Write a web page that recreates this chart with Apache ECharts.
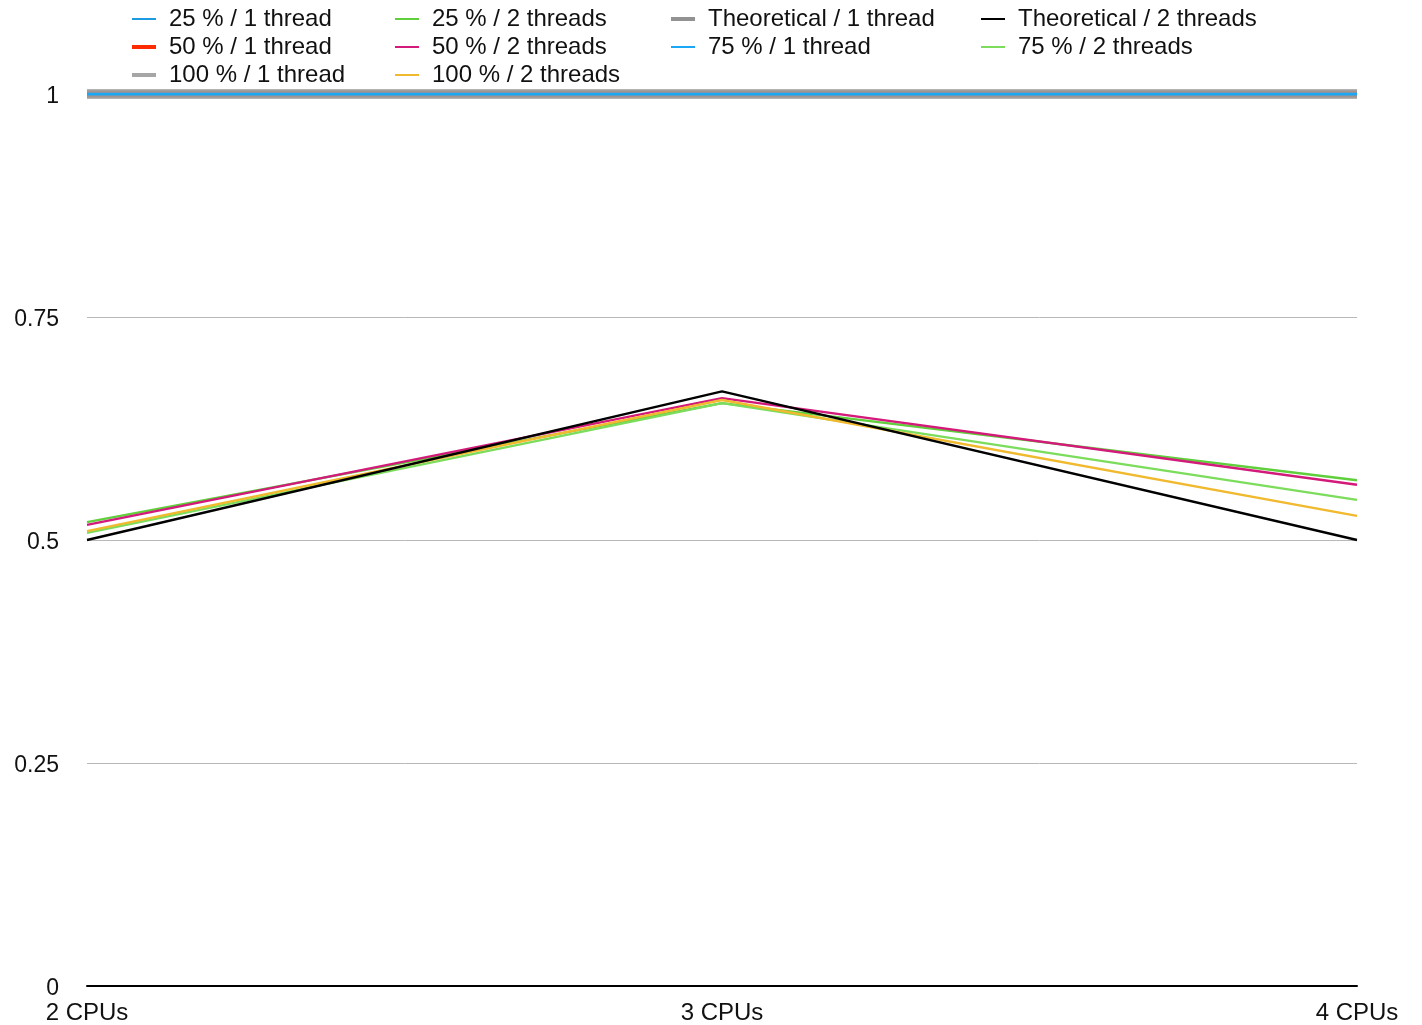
<!DOCTYPE html>
<html><head><meta charset="utf-8">
<script src="https://cdn.jsdelivr.net/npm/echarts@6/dist/echarts.min.js"></script>
<style>html,body{margin:0;padding:0;background:#fff}#c{width:1422px;height:1025px}</style>
</head><body><div id="c"></div>
<script>
const categories = ['2 CPUs', '3 CPUs', '4 CPUs'];
const yTicks = [0, 0.25, 0.5, 0.75, 1];

const theo1 = [1, 1, 1];
const p50t1 = [1, 1, 1];
const p100t1 = [1, 1, 1];
const p75t1 = [1, 1, 1];
const p25t1 = [1, 1, 1];
const theo2 = [0.5, 0.6667, 0.5];
const p100t2 = [0.510, 0.657, 0.527];
const p75t2 = [0.508, 0.6535, 0.545];
const p50t2 = [0.517, 0.659, 0.562];
const p25t2 = [0.520, 0.6535, 0.567];

const names = {
  p25t1: '25 % / 1 thread', p50t1: '50 % / 1 thread', p100t1: '100 % / 1 thread',
  p25t2: '25 % / 2 threads', p50t2: '50 % / 2 threads', p100t2: '100 % / 2 threads',
  theo1: 'Theoretical / 1 thread', p75t1: '75 % / 1 thread',
  theo2: 'Theoretical / 2 threads', p75t2: '75 % / 2 threads'
};
const colors = {
  p25t1: '#1f9ae0', p50t1: '#ff2a00', p100t1: '#a6a6a6',
  p25t2: '#5fcf3c', p50t2: '#d3197a', p100t2: '#f0b92e',
  theo1: '#929292', p75t1: '#1aa7f5', theo2: '#000000', p75t2: '#7cdc5c'
};
const widths = {
  p25t1: 2, p50t1: 6, p100t1: 10, p25t2: 2.4, p50t2: 2.4, p100t2: 2.4,
  theo1: 8, p75t1: 3, theo2: 2.4, p75t2: 2.4
};
const legendW = {
  p25t1: 2, p50t1: 4, p100t1: 4, p25t2: 2, p50t2: 2, p100t2: 2,
  theo1: 4, p75t1: 2, theo2: 2, p75t2: 2
};
const dataMap = {theo1, p50t1, p100t1, p75t1, p25t1, theo2, p100t2, p75t2, p50t2, p25t2};
const drawOrder = ['p50t1', 'p100t1', 'theo1', 'p25t1', 'p75t1', 'p25t2', 'p75t2', 'p50t2', 'p100t2', 'theo2'];
const opac = {p100t1: 0.85, theo1: 0.6};

const series = drawOrder.map(k => ({
  name: names[k], type: 'line', data: dataMap[k], symbol: 'none',
  lineStyle: {color: colors[k], width: widths[k], opacity: opac[k] || 1},
  itemStyle: {color: colors[k]}, animation: false, silent: true
}));

const cols = [['p25t1', 'p50t1', 'p100t1'], ['p25t2', 'p50t2', 'p100t2'], ['theo1', 'p75t1'], ['theo2', 'p75t2']];
const colX = [130, 394, 669, 980];
const legends = cols.map((c, i) => ({
  orient: 'vertical', left: colX[i], top: 7, padding: 0, itemGap: 4, itemWidth: 24, itemHeight: 24,
  textStyle: {fontSize: 24, color: '#111', fontFamily: 'Liberation Sans, Arial, sans-serif', padding: [0, 0, 0, 8]},
  selectedMode: false,
  itemStyle: {opacity: 0},
  data: c.map(k => ({name: names[k], itemStyle: {opacity: 0}, lineStyle: {color: colors[k], width: legendW[k], opacity: 1}}))
}));

const chart = echarts.init(document.getElementById('c'));
chart.setOption({
  animation: false,
  legend: legends,
  grid: {left: 87, right: 65, top: 94, bottom: 38, containLabel: false},
  xAxis: {
    type: 'category', data: categories, boundaryGap: false,
    axisLine: {lineStyle: {color: '#000', width: 2}},
    axisTick: {show: false},
    axisLabel: {fontSize: 24, color: '#111', fontFamily: 'Liberation Sans, Arial, sans-serif', margin: 15}
  },
  yAxis: {
    type: 'value', min: yTicks[0], max: yTicks[yTicks.length - 1], interval: 0.25,
    axisLine: {show: false}, axisTick: {show: false},
    splitLine: {lineStyle: {color: '#b8b8b8', width: 1}},
    axisLabel: {fontSize: 23, color: '#111', fontFamily: 'Liberation Sans, Arial, sans-serif', margin: 28,
      verticalAlign: 'top', lineHeight: 6, formatter: v => String(v)}
  },
  series
});
</script></body></html>
